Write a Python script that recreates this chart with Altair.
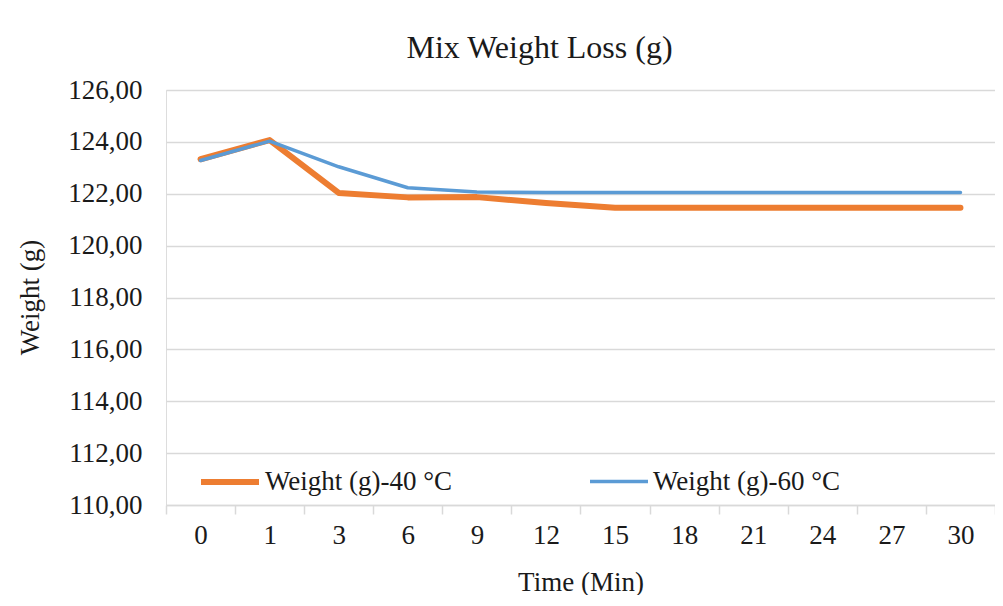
import altair as alt
import pandas as pd

times = ["0", "1", "3", "6", "9", "12", "15", "18", "21", "24", "27", "30"]
w40 = [123.33, 124.07, 122.03, 121.86, 121.87, 121.64, 121.46, 121.46, 121.46, 121.46, 121.46, 121.46]
w60 = [123.28, 124.03, 123.04, 122.23, 122.07, 122.05, 122.05, 122.05, 122.05, 122.05, 122.05, 122.05]
series = ["Weight (g)-40 °C", "Weight (g)-60 °C"]
y_ticks = [110, 112, 114, 116, 118, 120, 122, 124, 126]

rows = []
for t, a, b in zip(times, w40, w60):
    rows.append({"Time": t, "Series": series[0], "Weight": a})
    rows.append({"Time": t, "Series": series[1], "Weight": b})
df = pd.DataFrame(rows)

FONT = "'Liberation Serif', 'Times New Roman', Times, serif"
GRID = "#d9d9d9"
TXT = "#1a1a1a"
FS = 27

legend = alt.Legend(orient="none", legendX=32, legendY=360, direction="horizontal", title=None)

chart = alt.Chart(df).mark_line(strokeCap="round", strokeJoin="round").encode(
    x=alt.X("Time:N", sort=times, bandPosition=0.5,
            scale=alt.Scale(type="band", paddingInner=0, paddingOuter=0),
            axis=alt.Axis(title="Time (Min)", labelAngle=0, grid=False,
                          tickBand="extent", ticks=True, tickColor=GRID, tickSize=9, tickWidth=1.5,
                          domainColor=GRID, domainWidth=1.5,
                          labelFont=FONT, labelFontSize=FS, labelColor=TXT, labelPadding=8,
                          titleFont=FONT, titleFontSize=FS, titleFontWeight="normal", titleColor=TXT,
                          titleBaseline="middle", titleY=77)),
    y=alt.Y("Weight:Q", scale=alt.Scale(domain=[110, 126], nice=False, zero=False),
            axis=alt.Axis(title="Weight (g)", values=y_ticks,
                          labelExpr="replace(format(datum.value, '.2f'), '.', ',')",
                          ticks=False, domain=False, gridColor=GRID, gridWidth=1.5,
                          labelFont=FONT, labelFontSize=FS, labelColor=TXT, labelPadding=24,
                          titleFont=FONT, titleFontSize=FS, titleFontWeight="normal", titleColor=TXT,
                          titleAngle=-90, titleBaseline="middle", titleAlign="center",
                          titleX=-136, titleY=207)),
    color=alt.Color("Series:N", sort=series,
                    scale=alt.Scale(domain=series, range=["#ED7D31", "#5B9BD5"]),
                    legend=legend),
    strokeWidth=alt.StrokeWidth("Series:N", sort=series,
                                scale=alt.Scale(domain=series, range=[6, 3.5]),
                                legend=legend),
).properties(
    width=829,
    height=415,
    title=alt.TitleParams("Mix Weight Loss (g)", font=FONT, fontSize=32, fontWeight="normal",
                          color=TXT, anchor="middle", dx=-41, dy=46, offset=25, frame="group",
                          baseline="bottom"),
    autosize=alt.AutoSizeParams(type="none"),
    padding={"left": 158, "top": 82, "right": 0, "bottom": 90},
).configure_view(stroke=None).configure(background="white").configure_legend(
    symbolType="stroke", symbolSize=3364, labelFont=FONT, labelFontSize=FS, labelColor=TXT,
    labelLimit=0, labelOffset=3, columnPadding=130, padding=0
)

chart.save("out.html", embed_options={"renderer": "svg", "actions": False})
